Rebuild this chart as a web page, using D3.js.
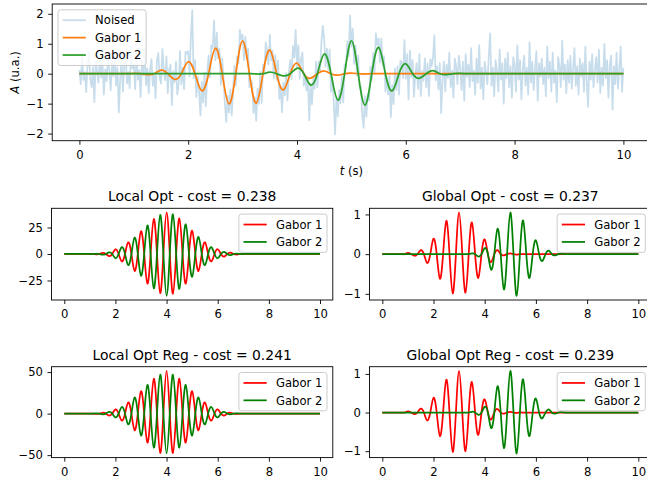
<!DOCTYPE html>
<html><head><meta charset="utf-8">
<script src="https://cdn.jsdelivr.net/npm/d3@7"></script>
<style>
body{margin:0;background:#fff;}
svg{display:block;}
text{font-family:"DejaVu Sans",sans-serif;fill:#000;}
</style>
</head><body>
<svg id="chart" width="647" height="481"></svg>
<script>
// ---------------- DATA ----------------
const xTicks = [0, 2, 4, 6, 8, 10];
const topYTicks = [-2, -1, 0, 1, 2];
const localYTicks = [-25, 0, 25];
const localRegYTicks = [-50, 0, 50];
const globalYTicks = [-1, 0, 1];

const titles = ["Local Opt - cost = 0.238", "Global Opt - cost = 0.237",
                "Local Opt Reg - cost = 0.241", "Global Opt Reg - cost = 0.239"];
const topLegend = ["Noised", "Gabor 1", "Gabor 2"];
const subLegend = ["Gabor 1", "Gabor 2"];

// noised signal, sampled every 0.025 s from t = 0 to t = 10
const noiseT0 = 0, noiseDt = 0.025;
const noised = [
 0.12,-0.35,0.58,-0.21,0.05,-0.62,0.31,0.74,-0.18,-0.45,0.22,-0.95,0.4,0.08,-0.3,0.55,-0.12,0.33,-0.7,0.15,
 -0.25,0.48,0.1,-0.55,0.36,-0.08,0.62,-0.4,0.2,-1.3,-0.15,0.42,-0.6,0.28,0.71,-0.33,0.05,-0.48,0.9,0.18,
 0.3,-0.52,0.66,-0.2,0.12,-0.78,0.45,-0.05,0.86,-0.38,0.17,-0.65,0.13,0.49,-0.41,0.02,-0.82,0.44,0.69,-0.12,
 -0.33,0.82,0.16,-0.22,0.57,-0.65,0.13,0.3,-1.05,0.08,-0.29,0.4,-0.69,-0.35,0.76,-0.35,0.2,-0.52,0.74,0.66,
 0.75,-0.1,1.25,2.12,-0.15,0.45,-0.78,-0.11,-0.59,-1.4,-0.27,-0.97,0.04,-1.09,0.04,0.6,-0.12,0.95,0.85,1.78,
 0.45,1.37,0.51,0.83,-0.37,0.5,-0.14,-1.02,-1.61,-0.74,-1.3,-0.52,-1.39,-0.53,0.27,-0.4,0.58,0.34,1.46,1.15,
 1.3,0.45,1.23,0.49,0.83,-0.45,-0.22,-0.3,-1.31,-0.79,-1.57,-0.51,-1.01,0.06,-0.98,0.3,0.07,1.05,0.76,0.31,
 1.3,0.44,0.77,-0.16,0.62,-0.2,0.44,-0.84,-0.42,-1.29,-0.31,-0.72,0.02,-0.89,0.02,0.45,-0.18,0.92,0.54,1.46,
 0.23,0.95,-0.17,0.51,0.71,-0.4,-0.06,-0.56,-0.13,-1.56,-0.33,-1.02,-0.12,-0.5,0.4,-0.45,0.41,0.11,1.08,1.6,
 1.16,0.24,0.84,0.13,0.81,-0.6,-0.12,-0.92,-2.03,-0.77,-1.43,-0.55,-0.98,-0.08,-0.96,0.3,0.22,1.08,0.57,1.95,
 0.9,1.5,0.33,0.94,-0.07,0.6,-0.48,-0.43,-1.36,-1.81,-0.75,-1.44,-0.68,-0.89,0.24,-0.2,0.69,0.05,1.35,0.96,
 1.18,0.37,1.17,0.27,0.59,-0.6,-0.12,-0.7,-0.06,-1.45,-0.37,-1.02,0.18,-0.55,0.25,-0.7,0.43,0.39,-0.15,1.12,
 -0.17,0.65,-0.86,0.77,-0.12,0.45,-0.77,-0.02,0.35,-0.51,0.65,-0.74,0.09,-0.23,0.51,-0.45,0.34,-0.74,0.49,0.25,
 0.55,1.29,-0.22,0.25,-0.52,0.35,-1.32,-0.2,0.4,-0.6,0.3,-0.15,0.7,-0.45,0.1,-0.8,0.5,0.25,-0.35,0.6,
 0.2,-0.55,0.4,-0.9,0.65,-0.1,0.3,-0.45,0.85,-0.25,0.1,-0.7,0.5,-0.3,0.95,-0.5,0.2,-0.85,0.4,0.05,
 -0.35,0.6,1.35,-0.4,0.2,-0.75,0.45,0.1,-0.6,0.8,-0.2,0.35,-1.0,0.5,-0.15,0.7,-0.45,0.25,-0.8,0.55,
 0.3,-0.6,0.95,-0.2,0.45,-0.85,0.1,0.6,-0.4,0.2,-0.7,1.05,-0.3,0.4,-0.55,0.15,0.75,-0.9,0.35,-0.1,
 0.5,-0.35,0.2,-0.75,0.9,-0.15,0.4,-0.6,0.7,-0.3,0.1,-0.95,0.55,0.25,-0.45,1.1,-0.2,0.3,-0.65,0.45,
 -0.3,0.6,-0.5,0.15,0.85,-0.4,0.25,-0.7,0.5,-0.1,0.35,-0.6,0.9,-0.25,-1.1,0.4,-0.2,0.65,-0.45,0.1,
 0.55,-0.3,0.8,-0.65,0.2,-0.4,1.0,-0.15,0.45,-0.8,0.3,0.6,-1.2,0.25,-0.35,0.7,-0.5,0.15,0.9,-0.6,
 0.2
];

// Gabor curves: key points (extrema and zero crossings)
const gaborT = [0,0.5,
 0.75,0.875,1,1.125,1.25,1.375,1.5,1.625,1.75,1.875,2,2.125,2.25,2.375,2.5,2.625,2.75,2.875,
 3,3.125,3.25,3.375,3.5,3.625,3.75,3.875,4,4.125,4.25,4.375,4.5,4.625,4.75,4.875,
 5,5.125,5.25,5.375,5.5,5.625,5.75,5.875,6,6.125,6.25,6.375,6.5,6.625,6.75,6.875,
 7,7.125,7.25,7.5,8,10];

const fitG1 = [0,0,
 0,0, 0.01,0, -0.03,0, 0.12,0, -0.19,0, 0.40,0, -0.57,0, 0.85,0, -1.01,0,
 1.10,0, -0.98,0, 0.79,0, -0.54,0, 0.35,0, -0.15,0, 0.09,0, -0.05,0,
 0.02,0, -0.01,0, 0,0, 0,0, 0,0, 0,0, 0,0, 0,0,
 0,0, 0, 0,0,0];
const fitG2 = [0,0,
 0,0, 0,0, 0,0, 0,0, 0,0, 0,0, 0,0, 0,0, 0,0,
 0.005,0, -0.01,0, 0.05,0, -0.07,0, 0.18,0, -0.38,0, 0.66,0, -0.88,0,
 1.10,0, -1.05,0, 0.88,0, -0.57,0, 0.33,0, -0.15,0, 0.10,0, -0.03,0,
 0.01,0, 0, 0,0,0];

const localG1 = [0,0,
 0,0, 0,0, -0.3,0, 1.0,0, -2.0,0, 4.4,0, -7.0,0, 11.0,0, -16.0,0,
 21.5,0, -28.0,0, 33.0,0, -37.0,0, 39.2,0, -37.5,0, 33.5,0, -28.0,0,
 22.0,0, -16.0,0, 11.0,0, -7.0,0, 4.5,0, -2.5,0, 1.2,0, -0.5,0,
 0.2,0, 0, 0,0,0];
const localG2 = [0,0,
 0,0, 0,0, 0.2,0, -0.7,0, 1.5,0, -4.0,0, 6.5,0, -10.5,0, 15.5,0,
 -20.5,0, 27.0,0, -32.5,0, 37.0,0, -39.5,0, 37.5,0, -33.0,0, 28.0,0,
 -21.5,0, 16.0,0, -10.5,0, 6.5,0, -4.0,0, 2.0,0, -1.0,0, 0.4,0,
 0,0, 0, 0,0,0];

const globalG1 = [0,0,
 0,0, 0.03,0, -0.04,0, 0.10,0, -0.22,0, 0.39,0, -0.62,0, 0.84,0, -0.99,0,
 1.05,0, -0.97,0, 0.80,0, -0.60,0, 0.37,0, -0.20,0, 0.10,0, -0.03,0,
 0.02,0, -0.01,0, 0,0, 0,0, 0,0, 0,0, 0,0, 0,0,
 0,0, 0, 0,0,0];
const globalG2 = [0,0,
 0,0, 0,0, 0,0, 0,0, 0,0, 0,0, 0,0, 0,0, 0,0,
 0,0, 0,0, 0.02,0, -0.06,0, 0.15,0, -0.39,0, 0.64,0, -0.89,0,
 1.05,0, -1.05,0, 0.85,0, -0.60,0, 0.35,0, -0.17,0, 0.09,0, -0.03,0,
 0.01,0, 0, 0,0,0];

const localRegG1 = [0,0,
 0,0, 0,0, -0.4,0, 1.0,0, -2.5,0, 5.0,0, -8.5,0, 13.5,0, -20.0,0,
 27.0,0, -35.0,0, 42.0,0, -47.5,0, 51.5,0, -47.5,0, 42.0,0, -35.0,0,
 27.0,0, -20.0,0, 13.5,0, -8.5,0, 5.0,0, -2.5,0, 1.0,0, -0.4,0,
 0,0, 0, 0,0,0];
const localRegG2 = [0,0,
 0,0, 0,0, 0.3,0, -1.0,0, 2.0,0, -4.5,0, 8.0,0, -13.0,0, 19.5,0,
 -26.5,0, 34.5,0, -41.0,0, 47.0,0, -48.0,0, 47.0,0, -41.0,0, 34.5,0,
 -26.5,0, 19.5,0, -13.0,0, 8.0,0, -4.5,0, 2.0,0, -1.0,0, 0.3,0,
 0,0, 0, 0,0,0];

const globalRegG1 = [0,0,
 0,0, 0.03,0, -0.04,0, 0.10,0, -0.20,0, 0.38,0, -0.61,0, 0.85,0, -1.02,0,
 1.08,0, -1.00,0, 0.79,0, -0.58,0, 0.34,0, -0.18,0, 0.09,0, -0.03,0,
 0.02,0, -0.01,0, 0,0, 0,0, 0,0, 0,0, 0,0, 0,0,
 0,0, 0, 0,0,0];
const globalRegG2 = [0,0,
 0,0, 0,0, 0,0, 0,0, 0,0, 0,0, 0,0, 0,0, 0,0,
 0,0, 0,0, 0.02,0, -0.06,0, 0.15,0, -0.40,0, 0.68,0, -0.92,0,
 1.08,0, -1.06,0, 0.86,0, -0.61,0, 0.36,0, -0.15,0, 0.08,0, -0.03,0,
 0.01,0, 0, 0,0,0];

// ---------------- STYLE ----------------
const C_NOISE = "#1f77b4", C_ORANGE = "#ff7f0e", C_GREEN = "#2ca02c";
const C_RED = "#ff0000", C_DGREEN = "#008000";
const FS = 11.6, FS_TITLE = 13.9, LW = 1.75;

const svg = d3.select("#chart");

function pts(tArr, vArr) {
  const n = Math.min(tArr.length, vArr.length);
  return d3.range(n).map(i => [tArr[i], vArr[i]]);
}
const minus = d => (d < 0 ? "\u2212" + Math.abs(d) : String(d));

let clipId = 0;
function panel(o) {
  const g = svg.append("g");
  const x = d3.scaleLinear().domain([-0.5, 10.5]).range([o.x0, o.x1]);
  const all = o.series.flatMap(s => s.data.map(p => p[1]));
  const [mn, mx] = d3.extent(all);
  const pad = (mx - mn) * 0.05;
  const y = d3.scaleLinear().domain([mn - pad, mx + pad]).range([o.y1, o.y0]);

  const id = "clip" + (clipId++);
  g.append("clipPath").attr("id", id).append("rect")
    .attr("x", o.x0).attr("y", o.y0).attr("width", o.x1 - o.x0).attr("height", o.y1 - o.y0);
  const lines = g.append("g").attr("clip-path", `url(#${id})`);
  o.series.forEach(s => {
    const line = d3.line().x(p => x(p[0])).y(p => y(p[1])).curve(s.curve || d3.curveLinear);
    lines.append("path").attr("d", line(s.data))
      .attr("fill", "none").attr("stroke", s.color).attr("stroke-opacity", s.opacity || 1)
      .attr("stroke-width", LW).attr("stroke-linejoin", "round");
  });

  // axes
  const xa = g.append("g").attr("transform", `translate(0,${o.y1})`)
    .call(d3.axisBottom(x).tickValues(xTicks).tickSize(4).tickPadding(6).tickFormat(minus));
  const ya = g.append("g").attr("transform", `translate(${o.x0},0)`)
    .call(d3.axisLeft(y).tickValues(o.yTicks).tickSize(4).tickPadding(4.5).tickFormat(minus));
  [xa, ya].forEach(a => {
    a.select(".domain").remove();
    a.selectAll("line").attr("stroke", "#000").attr("stroke-width", 0.9);
    a.selectAll("text").attr("font-size", FS).attr("font-family", "DejaVu Sans").attr("fill", "#000");
  });
  // spines
  g.append("rect").attr("x", o.x0).attr("y", o.y0).attr("width", o.x1 - o.x0).attr("height", o.y1 - o.y0)
    .attr("fill", "none").attr("stroke", "#000").attr("stroke-width", 0.9);

  if (o.title) {
    g.append("text").attr("x", (o.x0 + o.x1) / 2).attr("y", o.y0 - 7)
      .attr("text-anchor", "middle").attr("font-size", FS_TITLE).text(o.title);
  }

  // legend
  const bp = 0.4 * FS, hl = 2.0 * FS, htp = 0.8 * FS, ls = 0.5 * FS, bap = 0.5 * FS, rowH = FS;
  const lg = g.append("g");
  const texts = o.series.map((s, i) => lg.append("text").attr("font-size", FS).text(o.legend[i]));
  const tw = d3.max(texts, t => t.node().getComputedTextLength());
  const w = 2 * bp + hl + htp + tw;
  const h = 2 * bp + o.series.length * rowH + (o.series.length - 1) * ls;
  const lx = o.legendPos === "ul" ? o.x0 + bap : Math.min(o.x1, 647) - bap - w + (o.x1 > 647 ? (647 - o.x1 + (o.x1 - 647)) : 0);
  const lxx = o.legendPos === "ul" ? o.x0 + bap : o.x1 - bap - w;
  const ly = o.y0 + bap;
  lg.insert("rect", "text").attr("x", lxx).attr("y", ly).attr("width", w).attr("height", h)
    .attr("rx", 2.5).attr("fill", "#fff").attr("fill-opacity", 0.8)
    .attr("stroke", "#cccccc").attr("stroke-width", 1);
  o.series.forEach((s, i) => {
    const cy = ly + bp + rowH / 2 + i * (rowH + ls);
    lg.append("line").attr("x1", lxx + bp).attr("x2", lxx + bp + hl).attr("y1", cy).attr("y2", cy)
      .attr("stroke", s.color).attr("stroke-opacity", s.opacity || 1).attr("stroke-width", LW);
    texts[i].attr("x", lxx + bp + hl + htp).attr("y", cy).attr("dy", "0.36em");
  });
  return { x, y };
}

// ---------------- PANELS ----------------
const noisePts = noised.map((v, i) => [noiseT0 + i * noiseDt, v]);

panel({
  x0: 52.2, x1: 650.6, y0: 4, y1: 140.7, yTicks: topYTicks, legendPos: "ul", legend: topLegend,
  series: [
    { data: noisePts, color: C_NOISE, opacity: 0.25 },
    { data: pts(gaborT, fitG1), color: C_ORANGE, curve: d3.curveNatural },
    { data: pts(gaborT, fitG2), color: C_GREEN, curve: d3.curveNatural }
  ]
});

const subs = [
  { x0: 51.5, x1: 332.8, y0: 208.3, y1: 300, yTicks: localYTicks, g1: localG1, g2: localG2, title: titles[0] },
  { x0: 369.5, x1: 651.1, y0: 208.3, y1: 300, yTicks: globalYTicks, g1: globalG1, g2: globalG2, title: titles[1] },
  { x0: 51.5, x1: 332.8, y0: 366.7, y1: 457.6, yTicks: localRegYTicks, g1: localRegG1, g2: localRegG2, title: titles[2] },
  { x0: 369.5, x1: 651.1, y0: 366.7, y1: 457.6, yTicks: globalYTicks, g1: globalRegG1, g2: globalRegG2, title: titles[3] }
];
subs.forEach(s => panel({
  x0: s.x0, x1: s.x1, y0: s.y0, y1: s.y1, yTicks: s.yTicks, title: s.title, legendPos: "ur", legend: subLegend,
  series: [
    { data: pts(gaborT, s.g1), color: C_RED, curve: d3.curveNatural },
    { data: pts(gaborT, s.g2), color: C_DGREEN, curve: d3.curveNatural }
  ]
}));

// axis labels of top panel
const xl = svg.append("text").attr("x", 351.4).attr("y", 175).attr("text-anchor", "middle").attr("font-size", FS);
xl.append("tspan").attr("font-style", "italic").text("t");
xl.append("tspan").text(" (s)");
const yl = svg.append("text").attr("transform", "translate(18.5,72.4) rotate(-90)")
  .attr("text-anchor", "middle").attr("font-size", FS);
yl.append("tspan").attr("font-style", "italic").text("A");
yl.append("tspan").text(" (u.a.)");
</script>
</body></html>
